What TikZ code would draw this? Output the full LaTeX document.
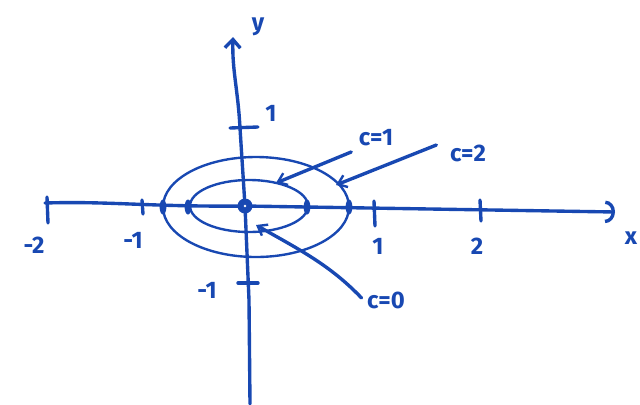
\documentclass[tikz,border=0pt]{standalone}
\usepackage{fontspec}
\setmainfont{Fira Sans}
\usetikzlibrary{arrows.meta}
\definecolor{ink}{RGB}{24,72,178}
\tikzset{
  pen/.style={draw=ink, line width=2.4pt, line cap=round, line join=round},
  thin pen/.style={draw=ink, line width=1.7pt, line cap=round},
  lbl/.style={text=ink, font=\fontsize{17}{20}\selectfont\bfseries, inner sep=1pt},
  tip/.style={-{Straight Barb[length=6pt,width=9pt,line width=1.7pt]}},
  dotmark/.style={fill=ink, draw=none}
}
\begin{document}
\begin{tikzpicture}[x=0.025cm,y=-0.025cm]
\useasboundingbox (0,0) rectangle (640,404);
% axes
\coordinate (xstart) at (45,203);
\coordinate (xend) at (615,212);
\coordinate (ybot) at (250,404);
\coordinate (ytop) at (233,37);
\draw[pen,-{Arc Barb[length=7pt,width=16pt,line width=2.4pt]}] (xstart) .. controls (110,201) and (150,207) .. (245,206) -- (xend);
\draw[pen,-{Straight Barb[length=6pt,width=11pt,line width=2.4pt]}] (ybot) -- (249,300) -- (245,206) -- (240,128) .. controls (238,90) and (232,70) .. (ytop);
% ticks
\draw[pen] (47,197) -- (48,223);
\draw[pen] (142,200) -- (143,214);
\draw[pen] (374,201) -- (375,226);
\draw[pen] (480,200) -- (481,221);
\draw[pen] (230,128) -- (258,127);
\draw[pen] (238,283) -- (258,283);
% level curves
\draw[thin pen] (256,207) ellipse [x radius=93, y radius=50];
\draw[thin pen] (249,206) ellipse [x radius=59, y radius=26];
\foreach \xx in {163,188,307,349} \fill[dotmark] (\xx,207) ellipse [x radius=3.4, y radius=7.5];
\fill[dotmark] (245,206) circle (7.5);
\fill[white] (245,206) circle (1.4);
% labels
\node[lbl] (ylab) at (258,27) {y};
\node[lbl] (xlab) at (631,238) {x};
\node[lbl] (ym1) at (207,290) {-1};
\node[lbl] (yp1) at (271,113) {1};
\node[lbl] (xm2) at (34,245) {-2};
\node[lbl] (xm1) at (133,240) {-1};
\node[lbl] (xp1) at (378,246) {1};
\node[lbl] (xp2) at (477,246) {2};
\node[lbl] (c1) at (376,138) {c=1};
\node[lbl] (c2) at (468,153) {c=2};
\node[lbl] (c0) at (386,300) {c=0};
% arrows
\coordinate (t1) at (276,183);
\coordinate (t2) at (336,185);
\coordinate (t0) at (256,225);
\draw[pen,tip] (c1.south west) ++(-6,4) -- (t1);
\draw[pen,tip] (c2.west) ++(-12,-8) -- (t2);
\draw[pen,tip] (c0.west) ++(-4,-2) .. controls (330,265) and (300,250) .. (t0);
\end{tikzpicture}
\end{document}
